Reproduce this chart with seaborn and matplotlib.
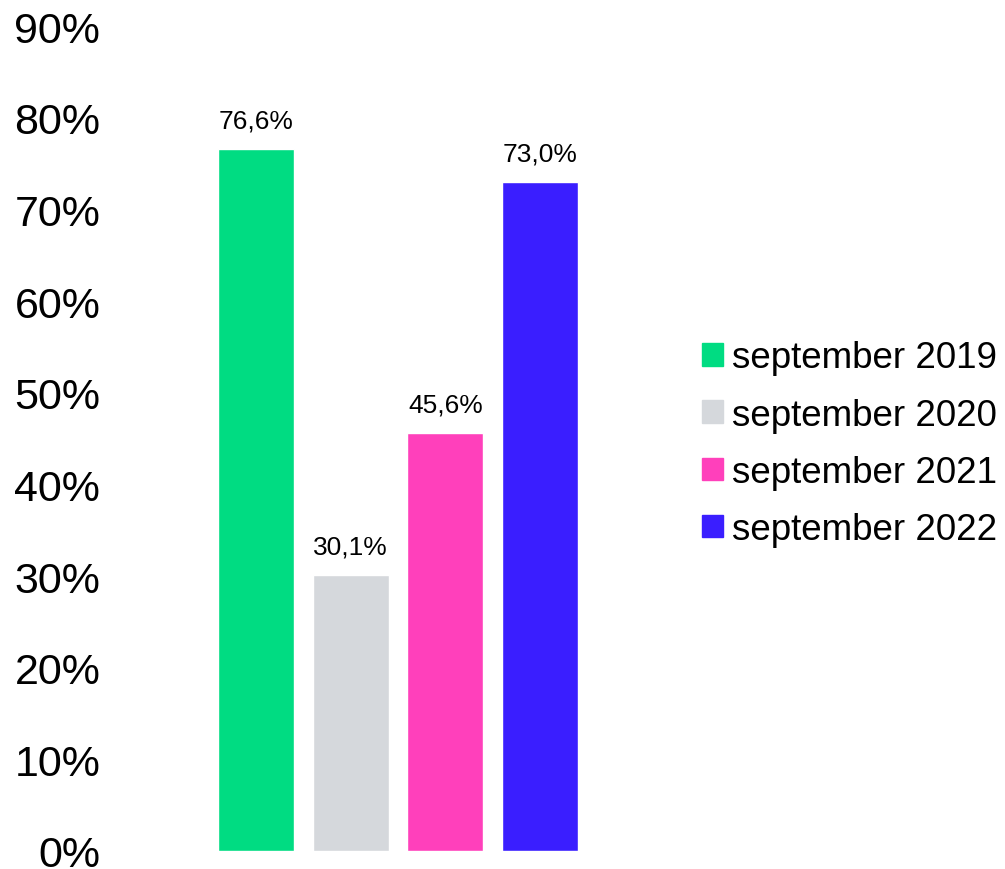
import pandas as pd
import matplotlib.pyplot as plt
import seaborn as sns
from matplotlib.ticker import FuncFormatter

# Data
periods = ['september 2019', 'september 2020', 'september 2021', 'september 2022']
values = [76.6, 30.1, 45.6, 73.0]
bar_colors = ['#00DC82', '#D5D8DC', '#FF40BB', '#3A1EFF']

df = pd.DataFrame({'period': periods, 'value': values})

sns.set_theme(style='white')
plt.rcParams['font.family'] = ['Liberation Sans', 'DejaVu Sans']
plt.rcParams['text.color'] = 'black'

fig = plt.figure(figsize=(10.05, 8.7), dpi=100)
ax = fig.add_axes([0.2076, 0.0207, 0.3768, 0.948])

sns.barplot(data=df, x='period', y='value', hue='period', palette=bar_colors,
            dodge=False, width=0.8, saturation=1, ax=ax, legend=False)

ax.set_ylim(0, 90)
ax.set_yticks(range(0, 91, 10))
ax.yaxis.set_major_formatter(FuncFormatter(lambda v, _: f'{int(v)}%'))
ax.tick_params(axis='y', labelsize=31, length=0, pad=78, colors='black')
ax.set_xticks([])
ax.set_xlabel('')
ax.set_ylabel('')
sns.despine(ax=ax, left=True, bottom=True)

for container in ax.containers:
    ax.bar_label(container, labels=[f'{v:.1f}%'.replace('.', ',') for v in container.datavalues],
                 fontsize=19, padding=12, color='black')

handles = [plt.Rectangle((0, 0), 1, 1, color=c) for c in bar_colors]
leg = fig.legend(handles, periods, loc='center left', bbox_to_anchor=(0.699, 0.489),
                 frameon=False, fontsize=26.5, handlelength=0.55, handleheight=0.55,
                 handletextpad=0.25, labelspacing=0.6, borderpad=0, borderaxespad=0)
for t in leg.get_texts():
    t.set_color('black')

fig.savefig('out.png', dpi=100)
